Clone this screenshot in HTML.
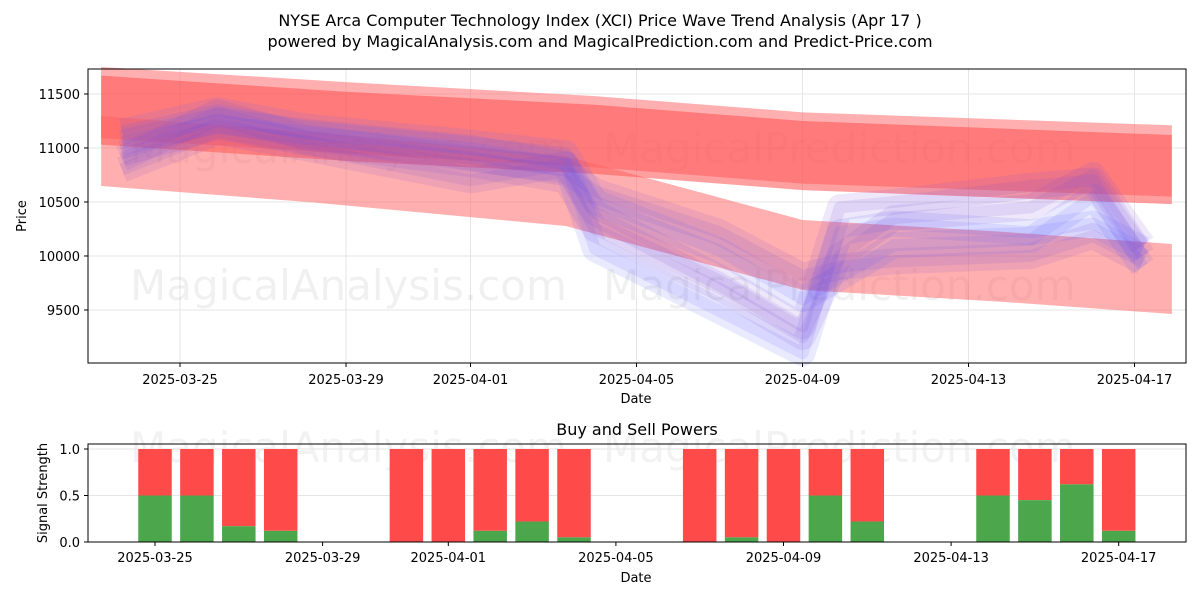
<!DOCTYPE html>
<html><head><meta charset="utf-8"><style>
body{margin:0;background:#fff;font-family:"Liberation Sans","DejaVu Sans",sans-serif}
svg text{font-family:"DejaVu Sans","Liberation Sans",sans-serif}
</style></head><body>
<svg id="s" width="1200" height="600" xmlns="http://www.w3.org/2000/svg">
<rect width="1200" height="600" fill="#fff"/>
<text x="600" y="26" text-anchor="middle" font-size="16">NYSE Arca Computer Technology Index (XCI) Price Wave Trend Analysis (Apr 17 )</text>
<text x="600" y="47" text-anchor="middle" font-size="16">powered by MagicalAnalysis.com and MagicalPrediction.com and Predict-Price.com</text>
<g id="topPlot"></g>
<g id="botPlot"></g>
</svg>
<script>
// days relative to 2025-03-25
const bandDays=[-1.9,4,10,15,23.9];
const bandAUpper=[11350,11200,11080,10930,10800];
const bandALight=[11420,11280,11150,11000,10880];
const bandBDays=[-1.9,3.2,9.3,15,19.8,23.9];
const bandBCenter=[10972,10820,10601,10009,9900,9787];
const lineDays=[-1.4,0.9,3,7,9.3,10,13,15,15.9,17.2,20.5,22,23.2];
const lineA=[10900,11330,11100,10900,10790,10600,10220,9815,9900,9950,10000,10185,9945];
const lineB=[11050,11250,11150,11000,10850,10065,9490,9100,10220,10300,10220,10300,10065];
const lineC=[10800,11150,11000,10700,10850,10400,9800,9350,10450,10500,10650,10700,10000];
const lineD=[11150,11350,11200,11050,10950,10500,10050,9600,9800,10100,10150,10550,9900];
const lineE=[10950,11200,11050,10850,10700,10250,9700,9250,10000,10350,10450,10750,10100];
const sigDays=[0,1,2,3,6,7,8,9,10,13,14,15,16,17,20,21,22,23];
const buyVals=[0.5,0.5,0.17,0.12,0,0,0.12,0.22,0.05,0,0.05,0,0.5,0.22,0.5,0.45,0.62,0.12];
const topTicks=[9500,10000,10500,11000,11500];
const xTickDays=[0,4,7,11,15,19,23];
const xTickLabels=["2025-03-25","2025-03-29","2025-04-01","2025-04-05","2025-04-09","2025-04-13","2025-04-17"];
const sigTicks=[0,0.5,1];
const sigTickLabels=["0.0","0.5","1.0"];

const NS="http://www.w3.org/2000/svg";
function mk(p,t,a){const e=document.createElementNS(NS,t);for(const k in a)e.setAttribute(k,a[k]);p.appendChild(e);return e;}
const topG=document.getElementById('topPlot'),botG=document.getElementById('botPlot');
const X=d=>180+41.5*d, Y=v=>363-(v-9009)*108/1000;
const X2=d=>155+41.9*d, Y2=v=>542-v*93;
topTicks.forEach(v=>{const l=mk(topG,'line',{x1:88,x2:1186,y1:Y(v),y2:Y(v),stroke:'#e6e6e6'});});
xTickDays.forEach(d=>{const l=mk(topG,'line',{x1:X(d),x2:X(d),y1:69,y2:363,stroke:'#e6e6e6'});});
[[130,300,'MagicalAnalysis.com'],[603,300,'MagicalPrediction.com'],[130,163,'MagicalAnalysis.com'],[603,163,'MagicalPrediction.com']].forEach(w=>{const t=mk(topG,'text',{x:w[0],y:w[1],'font-size':42,fill:'#000','fill-opacity':0.06});t.textContent=w[2];});
function band(days,centers,half,color,op,name){
  let up=days.map((d,i)=>X(d)+','+Y(centers[i]+half)),dn=days.map((d,i)=>X(d)+','+Y(centers[i]-half)).reverse();
  const p=mk(topG,'polygon',{points:up.concat(dn).join(' '),fill:color,'fill-opacity':op});
  
}
band(bandDays,bandALight,330,'#ff6060',0.5,'red-band-outer');
band(bandDays,bandAUpper,320,'#ff5050',0.55,'red-band-upper');
band(bandBDays,bandBCenter,324,'#ff6060',0.5,'red-band-lower');
[lineA,lineB,lineC,lineD,lineE].forEach((s,k)=>{
  [26,12].forEach(w=>{
    const p=mk(topG,'polyline',{points:lineDays.map((d,i)=>X(d)+','+Y(s[i])).join(' '),fill:'none',stroke:k%2?'#6060ff':'#7a4ad8','stroke-opacity':0.13,'stroke-width':w,'stroke-linejoin':'round'});
    
    
  });
});
mk(topG,'rect',{x:88,y:69,width:1098,height:294,fill:'none',stroke:'#000'});
topTicks.forEach(v=>{mk(topG,'line',{x1:84,x2:88,y1:Y(v),y2:Y(v),stroke:'#000'});const t=mk(topG,'text',{x:80,y:Y(v)+5,'text-anchor':'end','font-size':13});t.textContent=v;});
xTickDays.forEach((d,i)=>{mk(topG,'line',{x1:X(d),x2:X(d),y1:363,y2:367,stroke:'#000'});const t=mk(topG,'text',{x:X(d),y:384,'text-anchor':'middle','font-size':13});t.textContent=xTickLabels[i];});
let tt=mk(topG,'text',{x:636,y:403,'text-anchor':'middle','font-size':13});tt.textContent='Date';


tt=mk(topG,'text',{x:26,y:216,'text-anchor':'middle','font-size':13,transform:'rotate(-90 26 216)'});tt.textContent='Price';


tt=mk(botG,'text',{x:637,y:435,'text-anchor':'middle','font-size':16});tt.textContent='Buy and Sell Powers';


[[130,462,'MagicalAnalysis.com'],[603,462,'MagicalPrediction.com']].forEach(w=>{const e=mk(botG,'text',{x:w[0],y:w[1],'font-size':42,fill:'#000','fill-opacity':0.05});e.textContent=w[2];});
sigTicks.forEach(v=>{const l=mk(botG,'line',{x1:88,x2:1186,y1:Y2(v),y2:Y2(v),stroke:'#e6e6e6'});});
sigDays.forEach((d,i)=>{
  const b=buyVals[i],x=X2(d)-16.75;
  const r=mk(botG,'rect',{x:x,y:Y2(1),width:33.5,height:Y2(b)-Y2(1),fill:'#ff4a4a'});
  
  
  const g=mk(botG,'rect',{x:x,y:Y2(b),width:33.5,height:Y2(0)-Y2(b),fill:'#4ca64c'});
  
  
});
mk(botG,'rect',{x:88,y:444,width:1098,height:98,fill:'none',stroke:'#000'});
sigTicks.forEach((v,i)=>{mk(botG,'line',{x1:84,x2:88,y1:Y2(v),y2:Y2(v),stroke:'#000'});const e=mk(botG,'text',{x:80,y:Y2(v)+5,'text-anchor':'end','font-size':13});e.textContent=sigTickLabels[i];});
xTickDays.forEach((d,i)=>{mk(botG,'line',{x1:X2(d),x2:X2(d),y1:542,y2:546,stroke:'#000'});const e=mk(botG,'text',{x:X2(d),y:562,'text-anchor':'middle','font-size':13});e.textContent=xTickLabels[i];});
tt=mk(botG,'text',{x:636,y:582,'text-anchor':'middle','font-size':13});tt.textContent='Date';


tt=mk(botG,'text',{x:47,y:493,'text-anchor':'middle','font-size':13,transform:'rotate(-90 47 493)'});tt.textContent='Signal Strength';


</script>
</body></html>
